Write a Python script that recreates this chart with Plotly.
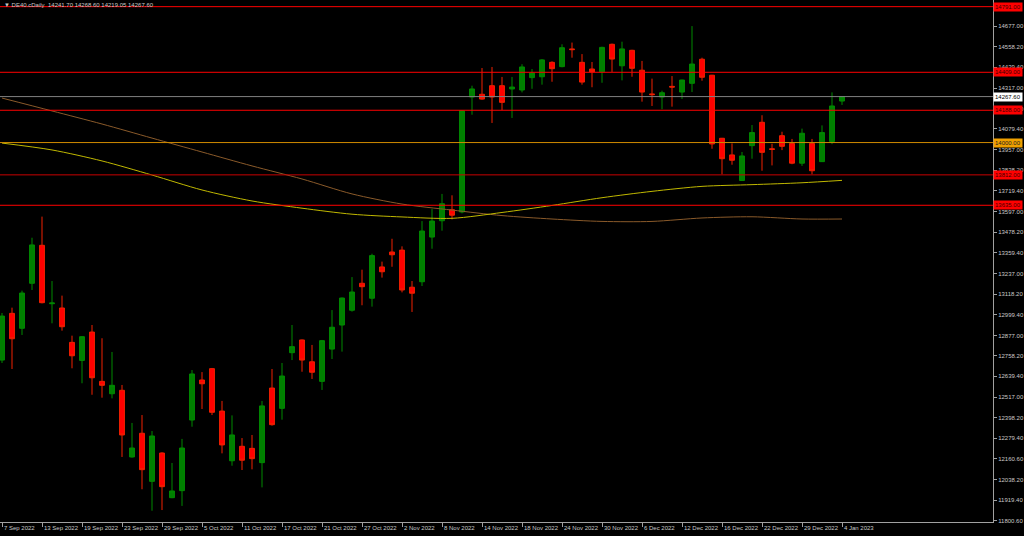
import plotly.graph_objects as go

# ---- data ----
date_labels = ["7 Sep 2022", "13 Sep 2022", "19 Sep 2022", "23 Sep 2022", "29 Sep 2022",
               "5 Oct 2022", "11 Oct 2022", "17 Oct 2022", "21 Oct 2022", "27 Oct 2022",
               "2 Nov 2022", "8 Nov 2022", "14 Nov 2022", "18 Nov 2022", "24 Nov 2022",
               "30 Nov 2022", "6 Dec 2022", "12 Dec 2022", "16 Dec 2022", "22 Dec 2022",
               "29 Dec 2022", "4 Jan 2023"]
bars_per_label = 4

opens = [12734, 13006, 12919, 13181, 13402, 13062, 13037, 12837, 12732, 12897,
         12610, 12538, 12558, 12170, 12308, 12028, 12193, 11933, 11974, 12385,
         12618, 12684, 12437, 12148, 12232, 12220, 12137, 12571, 12453, 12777,
         12851, 12724, 12610, 12798, 12938, 13024, 13181, 13094, 13276, 13363,
         13374, 13158, 13190, 13450, 13545, 13609, 13596, 14265, 14281, 14331,
         14331, 14312, 14306, 14378, 14383, 14467, 14442, 14545, 14467, 14428,
         14412, 14572, 14447, 14537, 14421, 14283, 14265, 14327, 14294, 14345,
         14485, 14392, 14025, 13928, 13779, 13982, 14118, 13964, 14040, 13995,
         13880, 13995, 13889, 14006, 14241.70]
highs = [13008, 13039, 13138, 13446, 13569, 13194, 13109, 12876, 12874, 12938,
         12861, 12781, 12589, 12368, 12414, 12321, 12197, 12135, 12275, 12676,
         12664, 12688, 12496, 12412, 12280, 12298, 12496, 12682, 12717, 12938,
         12854, 12822, 12851, 13025, 13098, 13217, 13260, 13353, 13307, 13440,
         13396, 13194, 13543, 13613, 13701, 13693, 14188, 14331, 14434, 14440,
         14382, 14382, 14456, 14428, 14486, 14473, 14572, 14582, 14515, 14469,
         14558, 14576, 14587, 14540, 14475, 14372, 14302, 14387, 14366, 14678,
         14494, 14394, 14027, 13995, 13945, 14102, 14159, 13993, 14063, 14021,
         14081, 14021, 14100, 14292, 14268.60]
lows = [12717, 12682, 12880, 13142, 13064, 12948, 12905, 12686, 12599, 12532,
        12515, 12511, 12170, 12166, 11982, 11857, 11861, 11930, 11885, 12346,
        12449, 12414, 12191, 12119, 12094, 12098, 11993, 12352, 12387, 12734,
        12666, 12624, 12560, 12740, 12783, 13016, 13053, 13045, 13214, 13277,
        13128, 13014, 13165, 13382, 13487, 13553, 13588, 14162, 14249, 14114,
        14189, 14143, 14292, 14313, 14337, 14354, 14438, 14494, 14337, 14322,
        14348, 14411, 14362, 14383, 14238, 14213, 14194, 14209, 14254, 14294,
        14360, 13964, 13815, 13871, 13777, 13906, 13836, 13867, 13956, 13874,
        13864, 13815, 13887, 13991, 14219.05]
closes = [12990, 12858, 13124, 13404, 13068, 13066, 12928, 12759, 12870, 12631,
          12587, 12587, 12298, 12222, 12096, 12292, 11997, 11972, 12222, 12653,
          12596, 12430, 12240, 12298, 12151, 12160, 12467, 12358, 12641, 12812,
          12734, 12663, 12847, 12925, 13095, 13130, 13161, 13342, 13248, 13347,
          13142, 13123, 13485, 13543, 13644, 13577, 14185, 14312, 14253, 14265,
          14234, 14323, 14440, 14405, 14481, 14430, 14552, 14541, 14352, 14411,
          14554, 14486, 14545, 14432, 14294, 14279, 14290, 14323, 14364, 14457,
          14380, 13992, 13906, 13897, 13922, 14058, 13943, 13960, 13978, 13880,
          14054, 13836, 14058, 14213, 14267.60]

# moving averages, read at sampled bars
ma_bars = [0, 5, 10, 15, 20, 25, 30, 35, 40, 45, 50, 55, 60, 65, 70, 75, 80, 84]
ma_slow = [14259, 14184, 14108, 14026, 13945, 13864, 13788, 13701, 13642, 13607,
           13575, 13555, 13541, 13541, 13561, 13568, 13555, 13555]
ma_fast = [13997, 13957, 13893, 13811, 13724, 13660, 13618, 13583, 13567, 13559,
           13593, 13634, 13679, 13716, 13745, 13755, 13766, 13780]

red_levels = [14791.0, 14409.0, 14188.0, 13812.0, 13635.0]
orange_level = 14000.0
last_price = 14267.60

ytick_vals = [14677.00, 14558.20, 14439.40, 14317.00, 14198.20, 14079.40, 13957.00,
              13838.20, 13719.40, 13597.00, 13478.20, 13359.40, 13237.00, 13118.20,
              12999.40, 12877.00, 12758.20, 12639.40, 12517.00, 12398.20, 12279.40,
              12160.60, 12038.20, 11919.40, 11800.60]

title_text = "DE40.cDaily  14241.70 14268.60 14219.05 14267.60"

# ---- figure ----
FONT = "Liberation Sans"
TXT = "#c8c8c8"
AX = "#a0a0a0"
FS = 6
bars = list(range(len(opens)))

fig = go.Figure()
fig.add_trace(go.Scatter(x=ma_bars, y=ma_slow, mode="lines",
                         line=dict(color="#8a5a2a", width=1, shape="spline", smoothing=0.8),
                         hoverinfo="skip"))
fig.add_trace(go.Scatter(x=ma_bars, y=ma_fast, mode="lines",
                         line=dict(color="#c0b800", width=1, shape="spline", smoothing=0.8),
                         hoverinfo="skip"))
fig.add_trace(go.Candlestick(
    x=bars, open=opens, high=highs, low=lows, close=closes,
    increasing=dict(line=dict(color="#008a00", width=1), fillcolor="#008000"),
    decreasing=dict(line=dict(color="#f02000", width=1), fillcolor="#ff0000"),
    whiskerwidth=0, hoverinfo="skip"))

shapes = []
for lv in red_levels:
    col = "#c80000" if lv == 13812.0 else "#ff0000"
    shapes.append(dict(type="line", xref="paper", x0=0, x1=1, yref="y", y0=lv, y1=lv,
                       line=dict(color=col, width=1), layer="above"))
shapes.append(dict(type="line", xref="paper", x0=0, x1=1, yref="y", y0=orange_level,
                   y1=orange_level, line=dict(color="#d08a00", width=1), layer="above"))
shapes.append(dict(type="line", xref="paper", x0=0, x1=1, yref="y", y0=last_price,
                   y1=last_price, line=dict(color="#808080", width=1), layer="above"))

annotations = []
for k, lab in enumerate(date_labels):
    annotations.append(dict(x=k * bars_per_label, xref="x", y=0, yref="paper",
                            xanchor="left", yanchor="top", yshift=-1, showarrow=False,
                            text=lab, font=dict(family=FONT, size=FS, color=TXT)))
for lv in red_levels:
    annotations.append(dict(x=1, xref="paper", y=lv, yref="y", xanchor="left",
                            yanchor="middle", showarrow=False, text=f"{lv:.2f}",
                            bgcolor="#ff0000", borderpad=1,
                            font=dict(family=FONT, size=FS, color="#400000")))
annotations.append(dict(x=1, xref="paper", y=orange_level, yref="y", xanchor="left",
                        yanchor="middle", showarrow=False, text=f"{orange_level:.2f}",
                        bgcolor="#f0a000", borderpad=1,
                        font=dict(family=FONT, size=FS, color="#202020")))
annotations.append(dict(x=1, xref="paper", y=last_price, yref="y", xanchor="left",
                        yanchor="middle", showarrow=False, text=f"{last_price:.2f}",
                        bgcolor="#ffffff", borderpad=1,
                        font=dict(family=FONT, size=FS, color="#000000")))
annotations.append(dict(x=0, xref="paper", y=1, yref="paper", xanchor="left",
                        yanchor="top", xshift=2, yshift=0, showarrow=False,
                        text="▼ " + title_text,
                        font=dict(family=FONT, size=FS, color=TXT)))

fig.update_layout(
    template="none",
    width=1024, height=536,
    margin=dict(l=0, r=31, t=0, b=14, pad=0),
    paper_bgcolor="#000000", plot_bgcolor="#000000",
    showlegend=False, hovermode=False,
    shapes=shapes, annotations=annotations,
    xaxis=dict(range=[-0.2, 99.1], showgrid=False, zeroline=False,
               rangeslider=dict(visible=False), automargin=False,
               showline=True, linecolor=AX, linewidth=1, mirror=True,
               ticks="outside", ticklen=4, tickcolor=AX, tickwidth=1,
               tickvals=[k * bars_per_label for k in range(len(date_labels))],
               showticklabels=False),
    yaxis=dict(range=[11791.4, 14829.8], side="right", showgrid=False, zeroline=False,
               automargin=False, showline=True, linecolor=AX, linewidth=1, mirror=True,
               ticks="outside", ticklen=3, tickcolor=AX, tickwidth=1,
               tickvals=ytick_vals, ticktext=[f"{v:.2f}" for v in ytick_vals],
               tickfont=dict(family=FONT, size=FS, color=TXT)),
)

fig.write_html("out.html",
               config={"displayModeBar": False, "staticPlot": True},
               post_script="document.body.style.margin='0';document.body.style.padding='0';"
                           "document.body.style.background='#000';")
